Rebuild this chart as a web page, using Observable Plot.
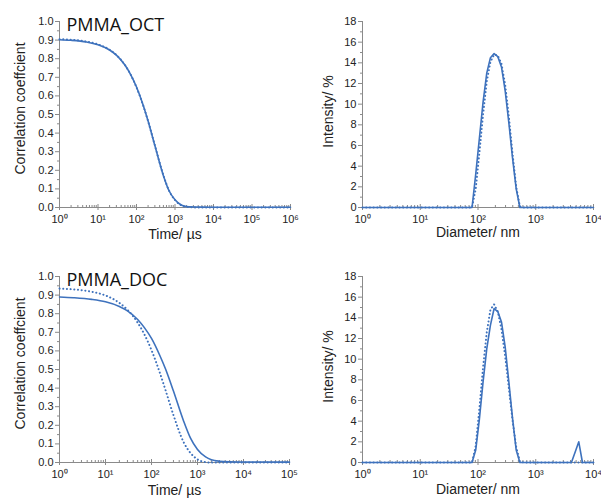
<!DOCTYPE html>
<html><head><meta charset="utf-8">
<script src="https://cdn.jsdelivr.net/npm/d3@7"></script>
<script src="https://cdn.jsdelivr.net/npm/@observablehq/plot@0.6"></script>
<style>
html,body{margin:0;padding:0;background:#fff;}
#wrap{position:relative;width:601px;height:498px;overflow:hidden;background:#fff;}
#wrap>div{position:absolute;}
svg{display:block;}
</style></head>
<body>
<div id="wrap">
  <div id="p1" style="left:0;top:0"></div>
  <div id="p2" style="left:300px;top:0"></div>
  <div id="p3" style="left:0;top:250px"></div>
  <div id="p4" style="left:300px;top:250px"></div>
</div>
<script>
// ---------- data ----------
const octTimeUs = [1, 2, 5, 10, 20, 30, 50, 70, 100, 150, 200, 300, 500, 700, 1000, 1500, 2000, 5000, 10000, 100000, 1000000];
const octCorrMeasured = [0.902, 0.899, 0.890, 0.875, 0.847, 0.819, 0.766, 0.716, 0.648, 0.549, 0.465, 0.333, 0.171, 0.090, 0.042, 0.012, 0.005, 0.002, 0.001, 0.001, 0.001];
const octCorrFit      = [0.905, 0.902, 0.892, 0.877, 0.848, 0.820, 0.766, 0.716, 0.646, 0.547, 0.464, 0.334, 0.173, 0.091, 0.040, 0.010, 0.003, 0.000, 0.000, 0.000, 0.000];

const docTimeUs = [1, 2, 5, 10, 20, 30, 50, 70, 100, 150, 200, 300, 500, 700, 1000, 1500, 2000, 3000, 5000, 10000, 100000];
const docCorrMeasured = [0.890, 0.886, 0.877, 0.864, 0.839, 0.815, 0.769, 0.725, 0.667, 0.578, 0.505, 0.384, 0.222, 0.132, 0.070, 0.030, 0.015, 0.007, 0.004, 0.003, 0.002];
const docCorrFit      = [0.935, 0.931, 0.918, 0.898, 0.858, 0.821, 0.752, 0.689, 0.604, 0.486, 0.392, 0.255, 0.109, 0.052, 0.017, 0.002, 0.000, 0.000, 0.000, 0.000, 0.000];

const sizeNm = [1, 78.82, 91.28, 105.7, 122.4, 141.8, 164.2, 190.1, 220.2, 255.0, 295.3, 342.0, 396.1, 458.7, 531.2, 615.1, 3580, 4145, 4801, 5560, 6439, 10000];
const octIntensity    = [0, 0, 3.2, 6.7, 10.2, 13.0, 14.5, 14.9, 14.6, 13.6, 11.3, 8.2, 4.8, 1.8, 0, 0, 0, 0, 0, 0, 0, 0];
const octIntensityFit = [0, 0, 1.8, 5.3, 9.0, 12.2, 14.1, 14.8, 14.7, 13.9, 11.9, 8.8, 5.2, 2.0, 0.1, 0, 0, 0, 0, 0, 0, 0];
const docIntensity    = [0, 0, 1.2, 4.2, 7.8, 11.0, 13.3, 14.9, 14.6, 13.6, 11.2, 7.8, 4.3, 1.2, 0, 0, 0, 0, 1.0, 2.0, 0, 0];
const docIntensityFit = [0, 0, 1.6, 5.2, 9.2, 12.6, 14.8, 15.3, 14.6, 12.9, 10.3, 7.2, 4.1, 1.5, 0.1, 0, 0, 0, 0, 0, 0, 0];

const octTimeTicks = [1, 10, 100, 1000, 10000, 100000, 1000000];
const docTimeTicks = [1, 10, 100, 1000, 10000, 100000];
const sizeTicks = [1, 10, 100, 1000, 10000];
const corrTicks = [0, 0.1, 0.2, 0.3, 0.4, 0.5, 0.6, 0.7, 0.8, 0.9, 1.0];
const intensityTicks = [0, 2, 4, 6, 8, 10, 12, 14, 16, 18];

const titles = ["PMMA_OCT", "PMMA_DOC"];
const timeLabel = "Time/ µs";
const corrLabel = "Correlation coeffcient";
const sizeLabel = "Diameter/ nm";
const intensityLabel = "Intensity/ %";

// ---------- drawing ----------
const blue = "#3e72bd";
const axisGray = "#8a8a8a";
const SUP = {"0":"⁰","1":"¹","2":"²","3":"³","4":"⁴","5":"⁵","6":"⁶","7":"⁷","8":"⁸","9":"⁹"};
const pow10 = d => "10" + String(Math.round(Math.log10(d))).split("").map(c => SUP[c]).join("");

function minorLog(ticks) {
  const out = [];
  for (let i = 0; i < ticks.length - 1; i++) for (let m = 2; m <= 9; m++) out.push(ticks[i] * m);
  return out;
}
function minorLin(ticks) {
  const out = [];
  for (let i = 0; i < ticks.length - 1; i++) out.push((ticks[i] + ticks[i + 1]) / 2);
  return out;
}

function panel(o) {
  const rows = (xs, ys) => xs.map((x, i) => ({x, y: ys[i]}));
  const marks = [
    Plot.ruleY([o.yTicks[0]], {stroke: axisGray, strokeWidth: 1}),
    Plot.ruleX([o.xTicks[0]], {stroke: axisGray, strokeWidth: 1}),
    Plot.axisX({ticks: o.xTicks, tickFormat: pow10, tickSize: 3, tickPadding: 5, label: null, stroke: axisGray, fill: "#222"}),
    Plot.axisX({ticks: o.xTicks, tickSize: 3, dy: -3, label: null, stroke: axisGray, fill: "none"}),
    Plot.axisX({ticks: minorLog(o.xTicks), tickSize: 2, dy: -2, label: null, stroke: axisGray, fill: "none"}),
    Plot.axisY({ticks: o.yTicks, tickFormat: o.yFormat, tickSize: 4, tickPadding: 2, label: null, stroke: axisGray, fill: "#222"}),
    Plot.axisY({ticks: minorLin(o.yTicks), tickSize: 2, label: null, stroke: axisGray, fill: "none"}),
    Plot.line(rows(o.x, o.solid), {x: "x", y: "y", stroke: blue, strokeWidth: 1.6, curve: o.curve}),
    Plot.line(rows(o.x, o.dotted), {x: "x", y: "y", stroke: blue, strokeWidth: 2, strokeDasharray: "0.1,3.6", strokeLinecap: "round", curve: o.curve}),
    Plot.text([o.xLabel], {frameAnchor: "bottom", textAnchor: "middle", lineAnchor: "middle", dy: o.xLabelDy, fontSize: 14, fill: "#222"}),
    Plot.text([o.yLabel], {frameAnchor: "left", textAnchor: "middle", lineAnchor: "middle", rotate: -90, dx: -o.yLabelDx, dy: o.yLabelDy, fontSize: 14, fill: "#222"})
  ];
  if (o.title) marks.push(Plot.text([o.title], {frameAnchor: "top-left", textAnchor: "start", lineAnchor: "middle", dx: 7, dy: o.titleDy, fontSize: 18, fontFamily: "Open Sans", fill: "#111"}));
  return Plot.plot({
    width: o.width, height: o.height,
    marginLeft: o.ml, marginRight: o.mr, marginTop: o.mt, marginBottom: o.mb,
    x: {type: "log", domain: [o.xTicks[0], o.xTicks[o.xTicks.length - 1]]},
    y: {domain: [o.yTicks[0], o.yTicks[o.yTicks.length - 1]]},
    style: {fontFamily: "Liberation Sans, Arial, sans-serif", fontSize: "11px", color: "#222", background: "white", overflow: "visible"},
    marks
  });
}

const fmt1 = d => d.toFixed(1);
const fmt0 = d => String(d);

document.getElementById("p1").append(panel({
  width: 300, height: 250, ml: 59, mr: 10, mt: 21, mb: 43,
  x: octTimeUs, solid: octCorrMeasured, dotted: octCorrFit, curve: "monotone-x",
  xTicks: octTimeTicks, yTicks: corrTicks, yFormat: fmt1,
  xLabel: timeLabel, yLabel: corrLabel, xLabelDy: 27, yLabelDx: 39, yLabelDy: -6,
  title: titles[0], titleDy: 4
}));
document.getElementById("p2").append(panel({
  width: 301, height: 250, ml: 62, mr: 8, mt: 21, mb: 43,
  x: sizeNm, solid: octIntensity, dotted: octIntensityFit, curve: "linear",
  xTicks: sizeTicks, yTicks: intensityTicks, yFormat: fmt0,
  xLabel: sizeLabel, yLabel: intensityLabel, xLabelDy: 25.5, yLabelDx: 34, yLabelDy: -3
}));
document.getElementById("p3").append(panel({
  width: 300, height: 248, ml: 59, mr: 11, mt: 26, mb: 36,
  x: docTimeUs, solid: docCorrMeasured, dotted: docCorrFit, curve: "monotone-x",
  xTicks: docTimeTicks, yTicks: corrTicks, yFormat: fmt1,
  xLabel: timeLabel, yLabel: corrLabel, xLabelDy: 28, yLabelDx: 39, yLabelDy: -6,
  title: titles[1], titleDy: 4
}));
document.getElementById("p4").append(panel({
  width: 301, height: 248, ml: 62, mr: 8, mt: 26, mb: 36,
  x: sizeNm, solid: docIntensity, dotted: docIntensityFit, curve: "linear",
  xTicks: sizeTicks, yTicks: intensityTicks, yFormat: fmt0,
  xLabel: sizeLabel, yLabel: intensityLabel, xLabelDy: 27.5, yLabelDx: 34, yLabelDy: -3
}));
</script>
</body></html>
